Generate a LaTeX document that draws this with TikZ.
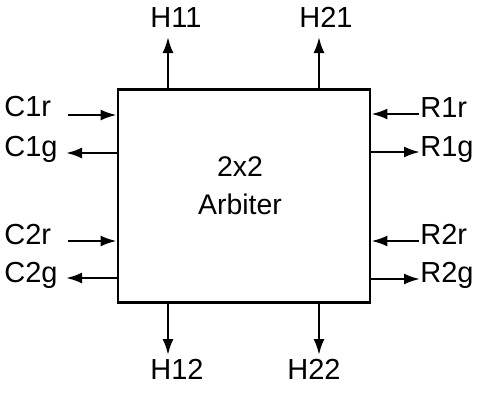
\documentclass[tikz,border=0pt]{standalone}
\usepackage{fontspec}
\setmainfont{Liberation Sans}
\usetikzlibrary{arrows.meta,positioning,calc}

\begin{document}
\begin{tikzpicture}[
  x=0.5pt,y=-0.5pt,
  >={Latex[length=8pt,width=5.5pt]},
  block/.style={draw=black,line width=1.4pt,minimum width=126pt,
    minimum height=106.5pt,inner sep=0pt},
  title/.style={align=center,font=\fontsize{14.2}{19}\selectfont},
  pin/.style={inner sep=0pt,font=\fontsize{14.5}{16}\selectfont},
  wire/.style={->,line width=1.2pt}
]
\useasboundingbox (0,0) rectangle (477,392);
\node[block] (arbiter) at (244,196) {};
\node[title,anchor=base] (name) at (240,214) {2x2\\Arbiter};

% handshake signals, left side
\coordinate (c1r-in) at (68,115);
\coordinate (c1g-out) at (66,153);
\coordinate (c2r-in) at (68,241);
\coordinate (c2g-out) at (66,278);
\node[pin,anchor=base west] (c1r) at (4,116) {C1r};
\node[pin,anchor=base west] (c1g) at (4,156) {C1g};
\node[pin,anchor=base west] (c2r) at (4,244) {C2r};
\node[pin,anchor=base west] (c2g) at (4,282) {C2g};
\draw[wire] (c1r-in) -- (c1r-in -| arbiter.west);
\draw[wire] (c1g-out -| arbiter.west) -- (c1g-out);
\draw[wire] (c2r-in) -- (c2r-in -| arbiter.west);
\draw[wire] (c2g-out -| arbiter.west) -- (c2g-out);

% handshake signals, right side
\coordinate (r1r-in) at (419,114);
\coordinate (r1g-out) at (420,152);
\coordinate (r2r-in) at (419,241);
\coordinate (r2g-out) at (420,279);
\node[pin,anchor=base west] (r1r) at (420,117) {R1r};
\node[pin,anchor=base west] (r1g) at (420,156) {R1g};
\node[pin,anchor=base west] (r2r) at (420,244) {R2r};
\node[pin,anchor=base west] (r2g) at (420,282) {R2g};
\draw[wire] (r1r-in) -- (r1r-in -| arbiter.east);
\draw[wire] (r1g-out -| arbiter.east) -- (r1g-out);
\draw[wire] (r2r-in) -- (r2r-in -| arbiter.east);
\draw[wire] (r2g-out -| arbiter.east) -- (r2g-out);

% top and bottom outputs
\coordinate (h11-out) at (168,37);
\coordinate (h21-out) at (319,37);
\coordinate (h12-out) at (168,355);
\coordinate (h22-out) at (319,355);
\node[pin,anchor=base] (h11) at (176,27) {H11};
\node[pin,anchor=base] (h21) at (326,27) {H21};
\node[pin,anchor=base] (h12) at (177,379) {H12};
\node[pin,anchor=base] (h22) at (314,379) {H22};
\draw[wire] (h11-out |- arbiter.north) -- (h11-out);
\draw[wire] (h21-out |- arbiter.north) -- (h21-out);
\draw[wire] (h12-out |- arbiter.south) -- (h12-out);
\draw[wire] (h22-out |- arbiter.south) -- (h22-out);
\end{tikzpicture}
\end{document}
